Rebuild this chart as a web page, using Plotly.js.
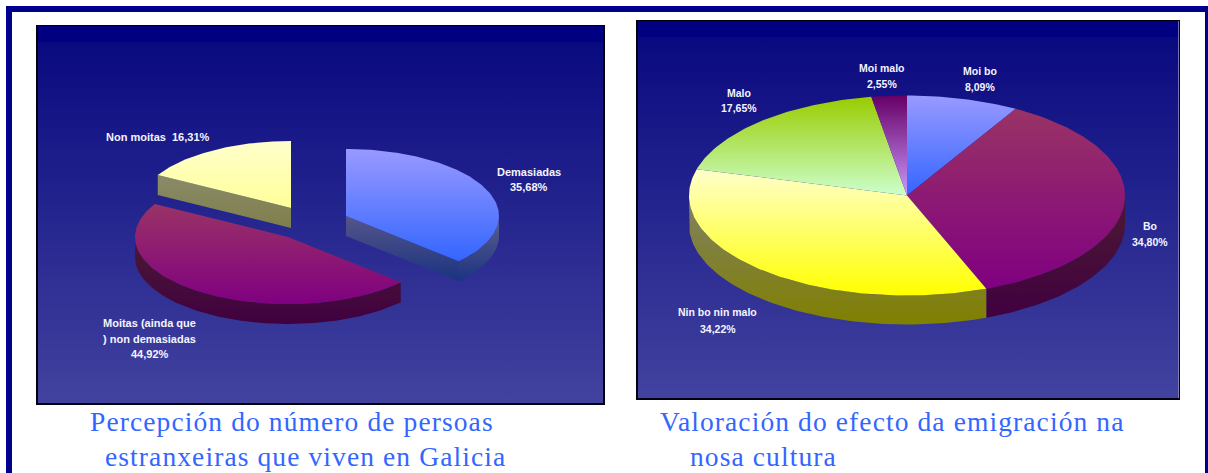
<!DOCTYPE html>
<html><head><meta charset="utf-8">
<script src="https://cdn.plot.ly/plotly-3.0.1.min.js"></script>
<style>html,body{margin:0;padding:0;background:#fff;overflow:hidden}
text.annotation-text[style*="Serif"]{letter-spacing:1.1px}</style>
</head><body><div id="chart" style="width:1208px;height:473px"></div>
<script>
// ---- data ----
const leftCategories = ["Demasiadas", "Moitas (ainda que\n) non demasiadas", "Non moitas"];
const leftValues = [35.68, 44.92, 16.31];
const rightCategories = ["Moi bo", "Bo", "Nin bo nin malo", "Malo", "Moi malo"];
const rightValues = [8.09, 34.80, 34.22, 17.65, 2.55];
const titleLeft = ["Percepción do número de persoas", "estranxeiras que viven en Galicia"];
const titleRight = ["Valoración do efecto da emigración na", "nosa cultura"];

// ---- styles ----
const leftTop = [["#9999FF","#3366FF"],["#993366","#800080"],["#FFFFCC","#FFFF99"]];
const leftSide = [["#55558a","#1a3380"],["#4d1a33","#400040"],["#8a8a68","#7f7f4c"]];
const rightTop = [["#9999FF","#3366FF"],["#993366","#800080"],["#FFFFCC","#FFFF00"],["#99CC00","#CCFFCC"],["#660066","#CC99FF"]];
const rightSide = [["#4d4d80","#1a3380"],["#4d1a33","#400040"],["#808066","#808000"],["#4d6600","#668066"],["#330033","#664d80"]];
const bgStops = [[0,"#000080"],[0.04,"#000080"],[0.045,"#0a0a80"],[1,"#42429f"]];
const W = 1208, H = 473;
const panelL = {x0:37.5, x1:603, y0:26, y1:403};
const panelR = {x0:637.5, x1:1178.5, y0:21, y1:398};
const pieL = {rx:153, ry:67, depth:20, centers:[[308.5,190],[250.5,211],[253.5,182]]};
const pieR = {rx:218, ry:100, depth:29, centers:[[269.5,174.5],[269.5,174.5],[269.5,174.5],[269.5,174.5],[269.5,174.5]]};
const labelFontL = {family:'"Liberation Sans", Arial, sans-serif', size:11, color:"#f4f4ff"};
const labelFontR = {family:'"Liberation Sans", Arial, sans-serif', size:10.5, color:"#f4f4ff"};
const titleFont = {family:'"Liberation Serif", serif', size:27.5, color:"#3366FF"};

const TAU = Math.PI*2;
function arc(c, p, a, b){
  const n = Math.max(2, Math.ceil(Math.abs(b-a)/0.02)), o=[];
  for(let i=0;i<=n;i++){const t=a+(b-a)*i/n; o.push([c[0]+p.rx*Math.sin(t), c[1]-p.ry*Math.cos(t)]);}
  return o;
}
function poly(pts, axis, stops){
  const ys = pts.map(q=>q[1]);
  return {type:"scatter", mode:"lines", xaxis:"x"+axis, yaxis:"y"+axis, hoverinfo:"skip", showlegend:false,
    x:pts.map(q=>q[0]).concat([pts[0][0]]), y:ys.concat([ys[0]]), fill:"toself", line:{width:0},
    fillcolor:stops[0],
    fillgradient:{type:"vertical", start:Math.min(...ys), stop:Math.max(...ys),
      colorscale:[[0,stops[0]],[1,stops[1]]]}};
}
function background(p, axis){
  const w=p.x1-p.x0, h=p.y1-p.y0;
  return {type:"scatter", mode:"lines", xaxis:"x"+axis, yaxis:"y"+axis, hoverinfo:"skip", showlegend:false,
    x:[0,w,w,0,0], y:[0,0,h,h,0], fill:"toself", line:{width:0}, fillcolor:"#202090",
    fillgradient:{type:"vertical", start:0, stop:h, colorscale:bgStops}};
}
function angles(values){
  const total = values.reduce((s,v)=>s+v,0); let acc=0;
  return values.map(v=>{const a=acc/total*TAU; acc+=v; return [a, acc/total*TAU];});
}
function rim(c,p,a,b){
  const lo=Math.max(a,Math.PI/2), hi=Math.min(b,Math.PI*1.5);
  if(hi<=lo) return null;
  const top=arc(c,p,lo,hi), bottom=top.map(q=>[q[0],q[1]+p.depth]).reverse();
  return top.concat(bottom);
}
function cut(c,p,t){
  const e=arc(c,p,t,t)[0];
  return [c,e,[e[0],e[1]+p.depth],[c[0],c[1]+p.depth]];
}
const traces = [background(panelL,1), background(panelR,2)];

// left pie, exploded: back slice first
const aL = angles(leftValues);
traces.push(poly(cut(pieL.centers[2],pieL,aL[2][0]),1,leftSide[2]));
traces.push(poly([pieL.centers[2]].concat(arc(pieL.centers[2],pieL,aL[2][0],aL[2][1])),1,leftTop[2]));
traces.push(poly(rim(pieL.centers[1],pieL,aL[1][0],aL[1][1]),1,leftSide[1]));
traces.push(poly([pieL.centers[1]].concat(arc(pieL.centers[1],pieL,aL[1][0],aL[1][1])),1,leftTop[1]));
traces.push(poly(cut(pieL.centers[0],pieL,aL[0][1]),1,leftSide[0]));
traces.push(poly(rim(pieL.centers[0],pieL,aL[0][0],aL[0][1]),1,["#5f5f90","#1a3380"]));
traces.push(poly([pieL.centers[0]].concat(arc(pieL.centers[0],pieL,aL[0][0],aL[0][1])),1,leftTop[0]));

// right pie
const aR = angles(rightValues);
aR.forEach((a,i)=>{const r=rim(pieR.centers[i],pieR,a[0],a[1]); if(r) traces.push(poly(r,2,rightSide[i]));});
aR.forEach((a,i)=>traces.push(poly([pieR.centers[i]].concat(arc(pieR.centers[i],pieR,a[0],a[1])),2,rightTop[i])));

const fmt = v => v.toFixed(2).replace(".",",")+"%";
const ann = [];
function line(axis,x,y,text){
  ann.push({xref:"x"+axis,yref:"y"+axis,x,y,text:"<b>"+text+"</b>",showarrow:false,xanchor:"center",yanchor:"middle",font:axis===1?labelFontL:labelFontR});
}
function stacked(axis,x,ys,cat,val){
  const parts=cat.split("\n").concat([fmt(val)]);
  parts.forEach((t,i)=>line(axis,x,ys[i],t));
}
// label anchors, in panel pixels
stacked(1,491.5,[146,161],leftCategories[0],leftValues[0]);
stacked(1,112,[297,313,328],leftCategories[1],leftValues[1]);
line(1,120,111,leftCategories[2]+"  "+fmt(leftValues[2]));
stacked(2,342,[50,66],rightCategories[0],rightValues[0]);
stacked(2,512,[205,221],rightCategories[1],rightValues[1]);
stacked(2,80,[291,308],rightCategories[2],rightValues[2]);
stacked(2,101,[72,87],rightCategories[3],rightValues[3]);
stacked(2,244,[47,63],rightCategories[4],rightValues[4]);

function title(x,y,text){
  ann.push({xref:"paper",yref:"paper",x:x/W,y:1-y/H,text,showarrow:false,xanchor:"left",yanchor:"middle",font:titleFont});
}
title(87.5,421,titleLeft[0]); title(102.5,456,titleLeft[1]);
title(657.5,421,titleRight[0]); title(687.5,456,titleRight[1]);

function axis(p,horizontal){
  const base={showgrid:false,zeroline:false,showticklabels:false,ticks:"",showline:true,mirror:true,linecolor:"#000010",linewidth:1.5,fixedrange:true};
  return horizontal
    ? Object.assign(base,{domain:[p.x0/W,p.x1/W],range:[0,p.x1-p.x0]})
    : Object.assign(base,{domain:[1-p.y1/H,1-p.y0/H],range:[p.y1-p.y0,0]});
}
const navy="#00008b";
const layout={width:W,height:H,margin:{l:0,r:0,t:0,b:0,pad:0},paper_bgcolor:"#fff",plot_bgcolor:"#202090",showlegend:false,
  xaxis:Object.assign(axis(panelL,true),{anchor:"y"}),yaxis:Object.assign(axis(panelL,false),{anchor:"x"}),
  xaxis2:Object.assign(axis(panelR,true),{anchor:"y2"}),yaxis2:Object.assign(axis(panelR,false),{anchor:"x2"}),
  annotations:ann,
  shapes:[
    {type:"rect",xref:"paper",yref:"paper",x0:6/W,x1:1,y0:1-12/H,y1:1-6/H,fillcolor:navy,line:{width:0},layer:"below"},
    {type:"rect",xref:"paper",yref:"paper",x0:6/W,x1:12/W,y0:0,y1:1-6/H,fillcolor:navy,line:{width:0},layer:"below"},
    {type:"rect",xref:"paper",yref:"paper",x0:1205/W,x1:1,y0:0,y1:1-6/H,fillcolor:navy,line:{width:0},layer:"below"}
  ]};
Plotly.newPlot("chart",traces,layout,{displayModeBar:false,staticPlot:true});
</script></body></html>
